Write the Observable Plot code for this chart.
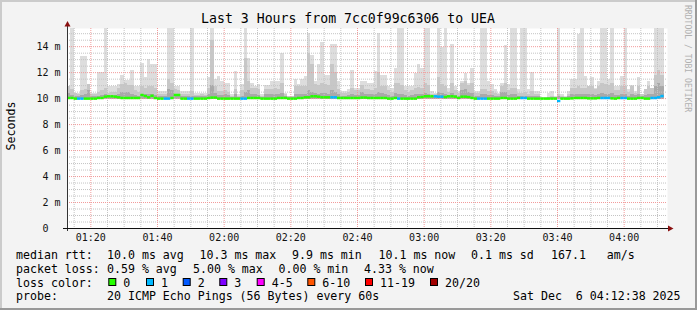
<!DOCTYPE html>
<html><head><meta charset="utf-8">
<script src="https://cdn.jsdelivr.net/npm/d3@7"></script>
<script src="https://cdn.jsdelivr.net/npm/@observablehq/plot@0.6"></script>
<style>
html,body{margin:0;padding:0;background:#f3f3f3;}
#chart{position:relative;width:697px;height:310px;overflow:hidden;}
</style></head><body><div id="chart"></div>
<script>
// ---- data (minutes since midnight, one column per minute, values in ms) ----
const startMin = 73;        // 01:13
const endMin = 253;         // 04:13
const stepMin = 1;
const smokeFloor = 9.95;    // lowest ping
const smokeMax = [10.9,15.4,10.4,10.4,13.25,13.25,11.1,10.4,10.4,12.0,
 12.0,15.4,10.95,10.95,10.95,11.1,11.8,11.4,11.4,12.2,
 10.95,10.95,12.7,11.6,13.0,12.6,12.6,10.55,10.55,10.55,
 15.4,15.4,10.95,10.95,10.55,10.55,10.55,15.4,10.4,10.4,
 10.4,10.4,11.6,15.4,11.45,11.7,11.3,11.2,11.2,10.3,
 12.1,10.3,11.1,15.4,13.1,11.2,10.95,11.1,10.3,11.0,
 11.0,11.3,11.35,11.35,13.5,10.4,10.2,10.2,11.45,11.1,
 11.45,11.7,15.05,13.3,11.35,12.6,14.3,11.8,11.8,14.2,
 14.2,11.35,10.55,10.55,10.7,12.2,10.8,10.8,11.3,11.3,
 11.2,11.2,12.1,15.05,11.8,11.8,10.95,10.8,12.3,15.4,
 15.4,10.95,10.95,10.95,11.9,12.6,12.3,15.4,15.4,10.55,
 10.4,15.4,13.9,15.4,10.8,14.2,10.95,10.55,11.35,11.9,
 11.2,12.3,10.55,10.55,15.4,15.4,11.35,11.1,10.7,10.4,
 11.2,14.1,11.1,15.4,15.4,10.7,15.4,15.4,10.7,12.0,
 10.55,10.55,10.1,10.1,10.4,10.55,10.2,15.4,10.3,10.2,
 10.55,11.45,11.45,14.9,15.4,11.7,10.95,11.6,10.8,11.35,
 15.4,15.4,11.45,15.4,10.95,10.95,11.7,15.4,10.7,11.0,
 10.55,11.6,10.3,10.7,11.35,10.8,15.4,15.4,15.4];
const smokeHi = [10.9,10.7,10.4,10.35,10.6,10.7,11.1,10.35,10.3,10.5,
 10.6,10.8,10.4,10.45,10.5,10.8,11.1,11.2,11.0,11.0,
 10.6,10.5,10.95,10.8,10.95,10.9,10.8,10.3,10.3,10.35,
 11.45,11.2,10.7,10.6,10.3,10.3,10.35,10.55,10.25,10.25,
 10.3,10.25,10.8,14.5,10.95,10.55,10.55,10.6,10.5,10.2,
 10.7,10.2,10.6,13.1,11.35,10.8,10.8,10.7,10.2,10.7,
 10.7,10.7,10.75,10.7,11.2,10.3,10.15,10.15,10.95,10.9,
 10.95,10.95,13.5,12.6,11.1,11.0,11.2,11.1,11.0,12.6,
 12.0,10.7,10.4,10.4,10.5,10.8,10.6,10.6,11.0,10.7,
 10.7,10.65,10.8,12.0,10.95,10.9,10.6,10.5,11.2,11.2,
 11.0,10.6,10.5,10.6,10.8,10.85,10.8,11.2,11.0,10.3,
 10.3,11.6,11.1,10.95,10.5,11.2,10.6,10.4,11.2,11.35,
 11.0,11.2,10.4,10.4,10.7,10.7,10.55,10.55,10.4,10.3,
 10.95,11.2,10.6,10.8,10.8,10.4,10.4,10.45,10.3,10.55,
 10.3,10.3,10.05,10.05,10.1,10.15,10.1,10.3,10.15,10.1,
 10.3,10.8,10.8,10.9,10.8,10.8,10.95,10.95,10.7,10.95,
 11.2,11.1,11.0,11.2,10.6,10.6,10.95,10.95,10.5,10.95,
 10.4,10.95,10.3,10.7,10.95,10.8,11.8,12.2,11.8];
const smokeDark = [10.4,10.25,10.2,10.2,10.25,10.3,10.6,10.2,10.15,10.2,
 10.25,10.3,10.2,10.2,10.25,10.35,10.5,10.5,10.45,10.3,
 10.25,10.2,10.3,10.3,10.35,10.3,10.25,10.15,10.15,10.2,
 10.7,10.6,10.3,10.25,10.15,10.15,10.2,10.2,10.15,10.15,
 10.15,10.15,10.3,11.0,10.4,10.25,10.25,10.3,10.25,10.1,
 10.3,10.1,10.2,10.5,10.6,10.3,10.3,10.25,10.1,10.3,
 10.3,10.3,10.3,10.3,10.4,10.15,10.1,10.1,10.35,10.35,
 10.3,10.35,10.6,10.5,10.4,10.35,10.4,10.4,10.35,10.6,
 10.5,10.3,10.2,10.2,10.25,10.35,10.25,10.25,10.5,10.3,
 10.3,10.3,10.3,10.5,10.4,10.35,10.25,10.2,10.4,10.35,
 10.35,10.25,10.2,10.25,10.3,10.35,10.3,10.4,10.35,10.15,
 10.15,10.5,10.4,10.35,10.2,10.4,10.25,10.2,10.6,10.7,
 10.5,10.4,10.2,10.2,10.3,10.3,10.25,10.25,10.2,10.15,
 10.5,10.5,10.25,10.3,10.3,10.2,10.2,10.2,10.15,10.2,
 10.15,10.15,10.0,10.0,10.05,10.05,10.05,10.15,10.1,10.05,
 10.15,10.3,10.3,10.35,10.3,10.3,10.35,10.35,10.25,10.35,
 10.4,10.35,10.35,10.4,10.25,10.25,10.35,10.35,10.2,10.35,
 10.25,10.35,10.15,10.25,10.35,10.3,10.9,11.2,10.9];
const medianRtt = [10.05,10.05,10.0,10.0,10.0,10.0,10.0,10.0,10.0,10.05,
 10.05,10.15,10.18,10.18,10.15,10.1,10.05,10.05,10.05,10.05,
 10.05,10.05,10.28,10.2,10.1,10.22,10.05,10.0,10.0,10.0,
 10.0,10.05,10.28,10.28,10.0,10.0,10.0,10.0,10.0,10.0,
 10.0,10.0,10.05,10.08,10.08,10.0,10.0,10.0,10.0,10.0,
 10.0,10.0,10.0,10.0,10.05,10.05,10.05,10.05,10.0,10.0,
 10.0,10.0,10.0,10.05,10.05,10.05,10.0,10.0,10.0,10.05,
 10.05,10.1,10.1,10.18,10.18,10.15,10.1,10.1,10.1,10.1,
 10.1,10.05,10.05,10.05,10.05,10.05,10.05,10.05,10.08,10.08,
 10.05,10.05,10.05,10.05,10.05,10.05,10.0,10.0,10.05,10.0,
 10.0,10.0,10.0,10.0,10.0,10.1,10.12,10.18,10.18,10.18,
 10.18,10.15,10.15,10.12,10.18,10.18,10.15,10.05,10.15,10.15,
 10.12,10.05,10.0,10.0,10.0,10.0,10.0,10.0,10.0,10.0,
 10.05,10.05,10.0,10.0,10.0,10.05,10.05,10.05,10.0,10.0,
 10.0,10.0,10.0,10.0,10.0,10.0,10.0,9.82,10.0,10.0,
 10.0,10.02,10.05,10.05,10.05,10.05,10.02,10.02,10.02,10.05,
 10.05,10.05,10.05,10.02,10.0,10.05,10.05,10.05,10.0,10.0,
 10.0,10.05,10.05,10.0,10.0,10.05,10.05,10.1,10.2];
const lossCount = [0,0,0,1,1,0,0,0,0,0,
 0,0,0,0,0,0,0,0,0,0,
 0,0,0,0,0,0,0,0,0,1,
 1,0,0,0,0,0,1,1,0,0,
 0,0,0,0,0,0,0,0,0,0,
 0,0,1,1,0,0,0,0,0,0,
 0,0,0,0,0,0,0,0,0,0,
 0,0,0,0,0,0,0,0,0,1,
 1,0,0,0,0,0,0,0,0,0,
 0,0,0,0,0,0,0,0,0,1,
 0,0,0,0,0,0,0,0,0,0,
 1,1,1,0,0,0,0,0,0,0,
 0,0,0,1,1,1,0,0,0,0,
 0,0,0,0,0,0,1,1,0,0,
 0,0,0,0,0,0,0,1,0,0,
 0,0,0,0,0,0,0,0,0,0,
 1,1,1,0,0,0,1,1,0,0,
 0,0,0,0,0,1,1,1,1];
const yTicks = [0, 2, 4, 6, 8, 10, 12, 14];
const xTickLabels = ["01:20","01:40","02:00","02:20","02:40","03:00","03:20","03:40","04:00"];
const lossLabels = ["0","1","2","3","4-5","6-10","11-19","20/20"];
const lossColors = ["#26ff00","#00b8ff","#0059ff","#7e00ff","#ff00ff","#ff5500","#ff0000","#a10000"];
const lossUpper  = [0,1,2,3,5,10,19,20];
const titleText = "Last 3 Hours from 7cc0f99c6306 to UEA";
const yLabel = "Seconds";
const legendLines = [
  [["median rtt:",16],["10.0 ms avg",107],["10.3 ms max",199.5],["9.9 ms min",292],["10.1 ms now",378.5],["0.1 ms sd",471],["167.1   am/s",551]],
  [["packet loss:",16],["0.59 % avg",107],["5.00 % max",193],["0.00 % min",278.5],["4.33 % now",364]],
  [["loss color:",16]],
  [["probe:",16],["20 ICMP Echo Pings (56 Bytes) every 60s",107],["Sat Dec  6 04:12:38 2025",513]]
];
const swatchX = [108.3,146,182.7,219.3,256.7,307.3,365,430];
const watermark = "RRDTOOL / TOBI OETIKER";

// ---- build ----
const lossColor = n => lossColors[lossUpper.findIndex(u => n <= u)];
const rows = smokeMax.map((mx, i) => ({
  t: startMin + i * stepMin, t1: startMin + (i + 1) * stepMin,
  max: mx, hi: smokeHi[i], dark: smokeDark[i], med: medianRtt[i], col: lossColor(lossCount[i])
}));
const xTickValues = xTickLabels.map(s => +s.slice(0, 2) * 60 + +s.slice(3));
const minorX = d3.range(75, endMin, 5).filter(v => !xTickValues.includes(v) && v % 20 !== 0);
const majorY = yTicks.filter(v => v > 0);
const minorY = d3.range(0.5, 15.4, 0.5).filter(v => v % 2 !== 0);
const dot = {strokeDasharray: "1,1", strokeWidth: 1};

const plot = Plot.plot({
  width: 697, height: 310,
  marginLeft: 67, marginRight: 30, marginTop: 28, marginBottom: 82,
  style: {background: "#f3f3f3", fontFamily: "DejaVu Sans Mono", fontSize: "10px", color: "#111", overflow: "visible"},
  color: {type: "identity"},
  x: {domain: [startMin, endMin], ticks: xTickValues, tickFormat: d => xTickLabels[xTickValues.indexOf(d)], tickSize: 0, tickPadding: 5, label: null},
  y: {domain: [0, 15.4], ticks: yTicks, tickFormat: d => d === 0 ? "0\u00a0\u00a0" : d + " m", tickSize: 0, tickPadding: 7, label: null},
  marks: [
    Plot.frame({fill: "white", stroke: null}),
    Plot.rect(rows, {x1: "t", x2: "t1", y1: () => smokeFloor, y2: "max", fill: "#dddddd", shapeRendering: "crispEdges"}),
    Plot.rect(rows, {x1: "t", x2: "t1", y1: () => smokeFloor, y2: "hi", fill: "#c7c7c7", shapeRendering: "crispEdges"}),
    Plot.rect(rows, {x1: "t", x2: "t1", y1: () => smokeFloor, y2: "dark", fill: "#a9a9a9", shapeRendering: "crispEdges"}),
    Plot.ruleY(minorY, {stroke: "#c4c4c4", ...dot}),
    Plot.ruleX(minorX, {stroke: "#c4c4c4", ...dot}),
    Plot.ruleY(majorY, {stroke: "#f29a9a", ...dot}),
    Plot.ruleX(xTickValues, {stroke: "#f29a9a", ...dot}),
    Plot.ruleY(rows, {x1: "t", x2: "t1", y: "med", stroke: "col", strokeWidth: 2.5})
  ]
});
document.getElementById("chart").appendChild(plot);

const xs = plot.scale("x"), ys = plot.scale("y");
const X0 = xs.apply(startMin), X1 = xs.apply(endMin), Y0 = ys.apply(0), Y1 = ys.apply(15.4);
const svg = d3.select(plot);
const g = svg.append("g").attr("text-anchor", "start");
const font = "DejaVu Sans Mono";
// axes with arrows
g.append("line").attr("x1", X0 + 0.5).attr("x2", X0 + 0.5).attr("y1", Y0 + 3).attr("y2", Y1 - 3).attr("stroke", "#333");
g.append("line").attr("x1", X0 - 4).attr("x2", X1 + 2).attr("y1", Y0 + 0.5).attr("y2", Y0 + 0.5).attr("stroke", "#111");
g.append("path").attr("d", `M${X0 - 2.5},${Y1 - 1.5}L${X0 + 3.5},${Y1 - 1.5}L${X0 + 0.5},${Y1 - 7}Z`).attr("fill", "#8a1010");
g.append("path").attr("d", `M${X1 + 1},${Y0 - 2.5}L${X1 + 1},${Y0 + 3.5}L${X1 + 6.5},${Y0 + 0.5}Z`).attr("fill", "#8a1010");
// title
g.append("text").attr("x", 348).attr("y", 23).attr("text-anchor", "middle")
  .attr("font-family", font).attr("font-size", "13.2px").attr("fill", "#000").text(titleText);
// y label
g.append("text").attr("transform", "translate(15,126) rotate(-90)").attr("text-anchor", "middle")
  .attr("font-family", font).attr("font-size", "11.6px").attr("fill", "#000").text(yLabel);
// watermark
g.append("text").attr("transform", "translate(685,5) rotate(90)").attr("text-anchor", "start")
  .attr("font-family", font).attr("font-size", "8.1px").attr("fill", "#b0b0b0").text(watermark);
// legend
const baselines = [259, 272.5, 286.5, 300];
legendLines.forEach((line, li) => {
  line.forEach(([txt, x]) => {
    g.append("text").attr("x", x).attr("y", baselines[li]).attr("text-anchor", "start").style("white-space", "pre")
      .attr("font-family", font).attr("font-size", "11.6px").attr("fill", "#000").text(txt);
  });
});
lossLabels.forEach((lab, i) => {
  g.append("rect").attr("x", swatchX[i] + 0.5).attr("y", 278.5).attr("width", 7).attr("height", 7)
    .attr("fill", lossColors[i]).attr("stroke", "#000");
  g.append("text").attr("x", swatchX[i] + 15).attr("y", baselines[2]).attr("text-anchor", "start")
    .attr("font-family", font).attr("font-size", "11.6px").attr("fill", "#000").text(lab);
});
// 3D border
g.append("rect").attr("x", 0).attr("y", 0).attr("width", 697).attr("height", 2).attr("fill", "#cbcbcb");
g.append("rect").attr("x", 0).attr("y", 0).attr("width", 2).attr("height", 310).attr("fill", "#cbcbcb");
g.append("rect").attr("x", 0).attr("y", 308).attr("width", 697).attr("height", 2).attr("fill", "#999");
g.append("rect").attr("x", 695).attr("y", 0).attr("width", 2).attr("height", 310).attr("fill", "#999");
</script></body></html>
